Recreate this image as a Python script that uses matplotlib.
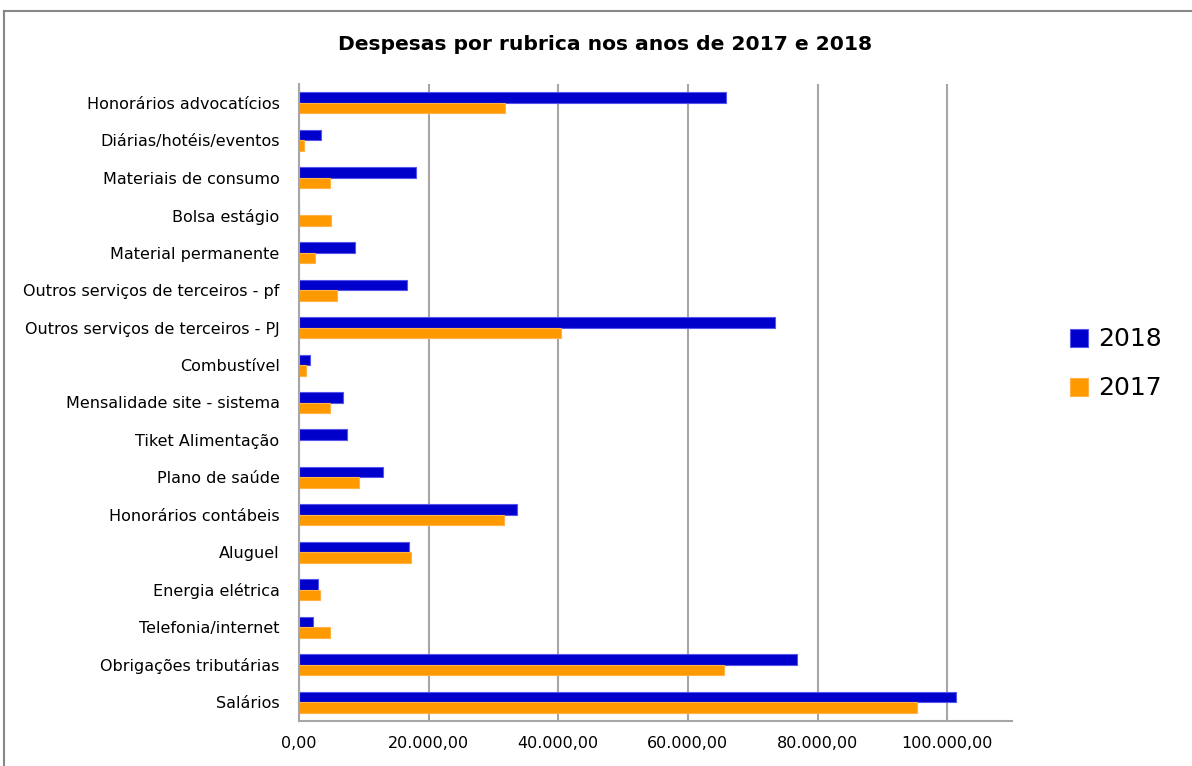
import numpy as np
import matplotlib.pyplot as plt
from matplotlib.lines import Line2D
from matplotlib.ticker import FuncFormatter

# rubricas, de baixo para cima como no grafico
rubricas = ['Salários', 'Obrigações tributárias', 'Telefonia/internet', 'Energia elétrica',
            'Aluguel', 'Honorários contábeis', 'Plano de saúde', 'Tiket Alimentação',
            'Mensalidade site - sistema', 'Combustível', 'Outros serviços de terceiros - PJ',
            'Outros serviços de terceiros - pf', 'Material permanente', 'Bolsa estágio',
            'Materiais de consumo', 'Diárias/hotéis/eventos', 'Honorários advocatícios']
desp_2018 = [101300, 76800, 2200, 3000, 17000, 33700, 12900, 7400,
             6800, 1750, 73500, 16600, 8700, 0, 18000, 3400, 65900]
desp_2017 = [95300, 65500, 4800, 3200, 17300, 31700, 9200, 0,
             4800, 1100, 40400, 5900, 2500, 5000, 4800, 800, 31800]
x_ticks = [0, 20000, 40000, 60000, 80000, 100000]

fig = plt.figure(figsize=(11.92, 7.66), dpi=100)
ax = fig.add_axes([299/1192, 1-721/766, (1012-299)/1192, (721-84)/766])

y = np.arange(len(rubricas))
h = 0.28
ax.barh(y + h/2, desp_2018, height=h, color='#0000CC', edgecolor='#5555EE', linewidth=0.8, label='2018')
ax.barh(y - h/2, desp_2017, height=h, color='#FF9900', edgecolor='#FFB347', linewidth=0.8, label='2017')

ax.set_xlim(0, 110000)
ax.set_ylim(-0.5, len(rubricas) - 0.5)
ax.set_xticks(x_ticks)
ax.xaxis.set_major_formatter(FuncFormatter(
    lambda v, p: f'{v:,.2f}'.replace(',', 'X').replace('.', ',').replace('X', '.')))
ax.set_yticks(y)
ax.set_yticklabels(rubricas, fontsize=11.5)
ax.tick_params(axis='x', labelsize=11.5, length=0, pad=11)
ax.tick_params(axis='y', length=0, pad=14)

ax.grid(axis='x', color='#A6A6A6', linewidth=1.5)
ax.set_axisbelow(True)
for s in ['top', 'right']:
    ax.spines[s].set_visible(False)
for s in ['left', 'bottom']:
    ax.spines[s].set_color('#A6A6A6')
    ax.spines[s].set_linewidth(1.5)

fig.text(605/1192, 1-45/766, 'Despesas por rubrica nos anos de 2017 e 2018',
         ha='center', va='center', fontsize=14.6, fontweight='bold')

handles, labels = ax.get_legend_handles_labels()
fig.legend(handles, labels, loc='center left', bbox_to_anchor=(1047/1192, 1-364/766),
           frameon=False, fontsize=18, handlelength=0.75, handleheight=0.75,
           labelspacing=1.0, handletextpad=0.4)

# moldura do grafico
fig.add_artist(Line2D([4/1192, 4/1192], [0, 1-11/766], color='#888888', linewidth=1.5))
fig.add_artist(Line2D([4/1192, 1], [1-11/766, 1-11/766], color='#888888', linewidth=1.5))

fig.savefig('out.png', dpi=100)
